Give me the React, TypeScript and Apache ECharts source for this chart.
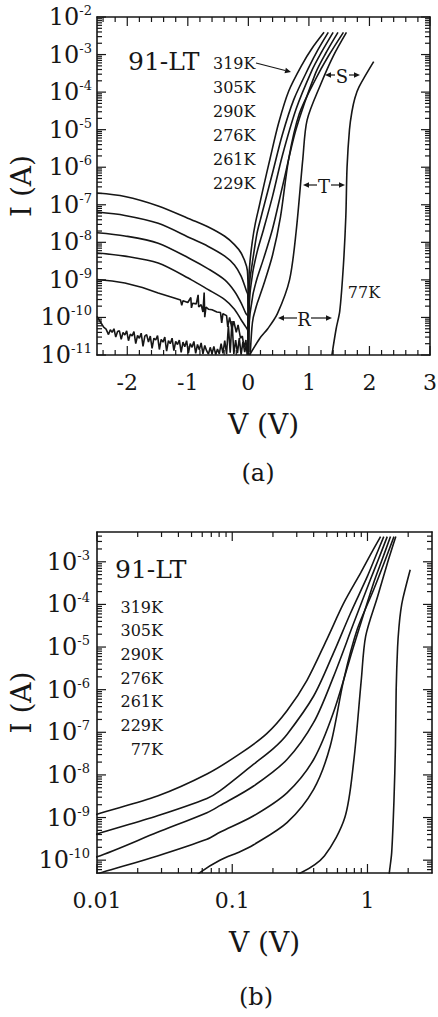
import React, { useEffect, useRef } from "react";
import * as echarts from "echarts";

const INK = "#161616";
const SERIF = "'DejaVu Serif', 'Liberation Serif', serif";

// Sample temperatures
const temperatures = ["319K", "305K", "290K", "276K", "261K", "229K", "77K"];

// Forward-bias I–V curves: [V (volts), I (amperes)]
const fwd319 = [[0.0001, 1.2e-11], [0.001, 1.2e-10], [0.01, 1.2e-9], [0.028, 3.2e-9], [0.065, 1.05e-8], [0.115, 3.2e-8], [0.18, 9.3e-8], [0.254, 3.2e-7], [0.357, 1.66e-6], [0.5, 1.5e-5], [0.667, 1.07e-4], [0.89, 5.5e-4], [1.05, 1.45e-3], [1.25, 3.9e-3]];
const fwd305 = [[0.0003, 1.2e-11], [0.001, 4.1e-11], [0.01, 4.1e-10], [0.028, 1.1e-9], [0.065, 2.8e-9], [0.081, 4.2e-9], [0.144, 1.78e-8], [0.202, 4.2e-8], [0.254, 8.9e-8], [0.4, 7.1e-7], [0.56, 7.2e-6], [0.75, 6.3e-5], [1.0, 4.6e-4], [1.15, 1.35e-3], [1.32, 3.9e-3]];
const fwd290 = [[0.001, 1.2e-11], [0.01, 1.2e-10], [0.028, 4.5e-10], [0.065, 1.3e-9], [0.081, 1.9e-9], [0.144, 5.5e-9], [0.254, 2.3e-8], [0.4, 1.7e-7], [0.56, 2.0e-6], [0.79, 3.6e-5], [1.05, 3.8e-4], [1.2, 1.1e-3], [1.4, 3.9e-3]];
const fwd276 = [[0.002, 1e-11], [0.011, 5.2e-11], [0.028, 1.26e-10], [0.065, 3.1e-10], [0.081, 4.5e-10], [0.144, 1.1e-9], [0.254, 3.8e-9], [0.4, 2.3e-8], [0.56, 2.9e-7], [0.79, 1.05e-5], [1.11, 3.2e-4], [1.28, 1.1e-3], [1.48, 3.9e-3]];
const fwd261 = [[0.03, 1e-11], [0.058, 5.2e-11], [0.081, 1.0e-10], [0.115, 1.6e-10], [0.144, 2.3e-10], [0.254, 7.6e-10], [0.4, 4.6e-9], [0.53, 4.7e-8], [0.667, 1.7e-6], [0.84, 2.6e-5], [1.11, 2.2e-4], [1.32, 9e-4], [1.57, 3.9e-3]];
const fwd229 = [[0.02, 1e-11], [0.19, 2.8e-11], [0.32, 5e-11], [0.48, 1.26e-10], [0.68, 1e-9], [0.79, 2e-8], [0.9, 1.7e-6], [0.97, 1.8e-5], [1.19, 1.55e-4], [1.4, 9e-4], [1.62, 3.9e-3]];
const fwd77 = [[1.38, 1e-11], [1.45, 5e-11], [1.51, 1.5e-10], [1.57, 2.5e-9], [1.61, 5e-8], [1.63, 1e-6], [1.67, 1e-5], [1.71, 3e-5], [1.76, 7e-5], [1.83, 1.4e-4], [2.07, 6.5e-4]];
const forwardCurves = [fwd319, fwd305, fwd290, fwd276, fwd261, fwd229, fwd77];

// Reverse-bias branches: [V (volts), |I| (amperes)]
const rev319 = [[-2.5, 2.05e-7], [-2.04, 1.66e-7], [-1.49, 9.3e-8], [-0.94, 4.0e-8], [-0.67, 2.6e-8], [-0.39, 1.45e-8], [-0.23, 8.7e-9], [-0.12, 5.2e-9], [-0.03, 2.3e-9], [-0.01, 1.26e-9], [-0.001, 1.26e-10], [-0.0001, 1.2e-11]];
const rev305 = [[-2.5, 6.4e-8], [-2.04, 5.2e-8], [-1.49, 3.2e-8], [-0.94, 1.26e-8], [-0.67, 7.9e-9], [-0.39, 4.3e-9], [-0.23, 2.5e-9], [-0.12, 1.26e-9], [-0.03, 5.0e-10], [-0.01, 4.1e-10], [-0.001, 4.1e-11], [-0.0003, 1.2e-11]];
const rev290 = [[-2.5, 1.8e-8], [-2.04, 1.48e-8], [-1.49, 9.5e-9], [-0.94, 3.5e-9], [-0.67, 2.0e-9], [-0.39, 1.0e-9], [-0.23, 5.0e-10], [-0.12, 2.45e-10], [-0.04, 1.26e-10], [-0.01, 1.1e-10], [-0.001, 1.1e-11]];
const rev276 = [[-2.5, 5.2e-9], [-2.04, 4.3e-9], [-1.49, 2.8e-9], [-0.94, 1.0e-9], [-0.67, 5.6e-10], [-0.39, 3.0e-10], [-0.23, 1.66e-10], [-0.12, 8.7e-11], [-0.04, 5.5e-11], [-0.01, 4.5e-11], [-0.002, 1e-11]];
const rev261 = [[-2.5, 1.02e-9], [-2.25, 9.3e-10], [-2.04, 8.3e-10], [-1.75, 6.3e-10], [-1.49, 4.5e-10], [-1.25, 3.4e-10], [-1.12, 2.9e-10], [-1.1, 2.1e-10], [-1.08, 2.8e-10], [-1.0, 2.5e-10], [-0.95, 3.4e-10], [-0.94, 1.8e-10], [-0.92, 2.4e-10], [-0.86, 2.3e-10], [-0.83, 4.0e-10], [-0.82, 1.9e-10], [-0.78, 2.2e-10], [-0.75, 1.4e-10], [-0.73, 4.6e-10], [-0.72, 1.02e-10], [-0.7, 1.9e-10], [-0.66, 1.66e-10], [-0.6, 1.6e-10], [-0.52, 1.4e-10], [-0.46, 1.35e-10], [-0.44, 7.2e-11], [-0.42, 1.26e-10], [-0.36, 1.12e-10], [-0.34, 5.6e-11], [-0.31, 1.0e-10], [-0.27, 5.0e-11], [-0.24, 7.9e-11], [-0.2, 4.0e-11], [-0.17, 6.3e-11], [-0.13, 2.8e-11], [-0.1, 3.2e-11], [-0.07, 1.6e-11], [-0.04, 2.5e-11], [-0.02, 1e-11]];
const rev229 = [[-2.5, 1.07e-10], [-2.45, 7.9e-11], [-2.42, 6.6e-11], [-2.39, 5.5e-11], [-2.35, 4.9e-11], [-2.31, 3.5e-11], [-2.28, 4.7e-11], [-2.25, 4.0e-11], [-2.22, 5.0e-11], [-2.19, 3.0e-11], [-2.16, 4.2e-11], [-2.13, 4.4e-11], [-2.1, 2.6e-11], [-2.07, 4.0e-11], [-2.04, 3.4e-11], [-2.01, 4.4e-11], [-1.98, 2.4e-11], [-1.95, 3.6e-11], [-1.92, 3.2e-11], [-1.89, 4.2e-11], [-1.86, 2.0e-11], [-1.83, 3.3e-11], [-1.8, 2.8e-11], [-1.77, 3.8e-11], [-1.74, 1.7e-11], [-1.71, 3.2e-11], [-1.68, 3.5e-11], [-1.65, 2.2e-11], [-1.62, 3.2e-11], [-1.59, 1.5e-11], [-1.56, 2.8e-11], [-1.53, 2.5e-11], [-1.5, 3.3e-11], [-1.47, 1.4e-11], [-1.44, 2.6e-11], [-1.41, 2.2e-11], [-1.38, 3.0e-11], [-1.35, 1.26e-11], [-1.32, 2.4e-11], [-1.29, 2.0e-11], [-1.26, 2.8e-11], [-1.23, 1.3e-11], [-1.2, 2.3e-11], [-1.17, 1.9e-11], [-1.14, 2.5e-11], [-1.11, 1.17e-11], [-1.08, 2.2e-11], [-1.05, 1.66e-11], [-1.02, 2.4e-11], [-0.99, 1.12e-11], [-0.96, 2.0e-11], [-0.93, 1.6e-11], [-0.9, 2.3e-11], [-0.87, 1.1e-11], [-0.84, 1.9e-11], [-0.81, 1.38e-11], [-0.78, 2.1e-11], [-0.75, 1.07e-11], [-0.72, 1.8e-11], [-0.69, 1.3e-11], [-0.66, 1.05e-11], [-0.63, 1.6e-11], [-0.6, 1.07e-11], [-0.57, 1.7e-11], [-0.54, 1.02e-11], [-0.51, 1.45e-11], [-0.48, 1.07e-11], [-0.45, 2.0e-11], [-0.42, 1.1e-11], [-0.39, 2.4e-11], [-0.36, 1.05e-11], [-0.33, 6.0e-11], [-0.3, 1.15e-11], [-0.27, 8.0e-11], [-0.24, 1.07e-11], [-0.21, 2.5e-11], [-0.18, 1.12e-11], [-0.15, 2.8e-11], [-0.12, 1.02e-11], [-0.09, 2.24e-11], [-0.06, 1.2e-11], [-0.03, 2.0e-11], [0.0, 1.05e-11]];
const reverseCurves = [rev319, rev305, rev290, rev276, rev261, rev229];
const reverseIsNoisy = [false, false, false, false, true, true];

// Tick labels
const voltTicksLinear = [-2, -1, 0, 1, 2, 3];
const currentTicksA = [1e-11, 1e-10, 1e-9, 1e-8, 1e-7, 1e-6, 1e-5, 1e-4, 1e-3, 1e-2];
const voltTicksLog = [0.01, 0.1, 1];
const currentTicksB = [1e-10, 1e-9, 1e-8, 1e-7, 1e-6, 1e-5, 1e-4, 1e-3];

// Axis ranges
const rangeVa: [number, number] = [-2.5, 3];
const rangeIa: [number, number] = [1e-11, 1e-2];
const rangeVb: [number, number] = [0.01, 3];
const rangeIb: [number, number] = [5e-11, 5e-3];

// Plot-area boxes [left, top, width, height]
const boxA = [97, 17, 333, 338];
const boxB = [97, 532, 335, 341];

// Minor tick positions
function logMinor(minExp: number, maxExp: number, lo: number, hi: number) {
  const out: number[] = [];
  for (let e = minExp; e <= maxExp; e++) {
    for (let m = 2; m <= 9; m++) {
      const v = Number(`${m}e${e}`);
      if (v > lo && v < hi) out.push(v);
    }
  }
  return out;
}
function linearMinor(lo: number, hi: number, step: number) {
  const out: number[] = [];
  const n = Math.round((hi - lo) / step);
  for (let k = 0; k <= n; k++) {
    const v = Number((lo + k * step).toFixed(2));
    if (Math.abs(v - Math.round(v)) > 1e-6) out.push(v);
  }
  return out;
}

const powLabel = (v: number) => `{b|10}{s|${Math.round(Math.log10(v))}}`;
const powRich = {
  b: { fontSize: 24, fontFamily: SERIF, color: INK, lineHeight: 26 },
  s: { fontSize: 13, fontFamily: SERIF, color: INK, lineHeight: 13, verticalAlign: "top" },
};

// Labelled axis plus its mirror on the opposite frame edge
function axisPair(dim: "x" | "y", gridIndex: number, type: "value" | "log", range: [number, number], major: number[], label: any, name: string, nameGap: number) {
  const sides = dim === "x" ? ["bottom", "top"] : ["left", "right"];
  return sides.map((pos, si) => {
    const ax: any = {
      gridIndex,
      type,
      min: range[0],
      max: range[1],
      position: pos,
      splitLine: { show: false },
      minorTick: { show: false },
      axisLine: { show: true, onZero: false, lineStyle: { color: INK, width: 1.6 } },
      axisTick: { show: false },
      axisLabel: { show: false },
    };
    if (type === "log") ax.logBase = 10;
    if (si === 0) {
      ax.axisLabel = { show: true, customValues: major, ...label };
      ax.name = name;
      ax.nameLocation = "middle";
      ax.nameGap = nameGap;
      ax.nameMoveOverlap = false;
      ax.nameTextStyle = { fontSize: 28, fontFamily: SERIF, color: INK };
    }
    return ax;
  });
}

// Move a value along an axis by a given number of pixels
function shiftBy(type: "value" | "log", range: [number, number], spanPx: number, v: number, dpx: number) {
  if (type === "log") return v * Math.pow(10, (dpx * (Math.log10(range[1]) - Math.log10(range[0]))) / spanPx);
  return v + (dpx * (range[1] - range[0])) / spanPx;
}

// Inward frame ticks on all four sides, drawn as short two-point line series
function frameTicks(
  axisIdx: number,
  xType: "value" | "log",
  yType: "value" | "log",
  xr: [number, number],
  yr: [number, number],
  box: number[],
  sets: { dim: "x" | "y"; values: number[]; len: number }[]
) {
  const out: any[] = [];
  const base = {
    type: "line",
    xAxisIndex: axisIdx,
    yAxisIndex: axisIdx,
    showSymbol: false,
    symbol: "none",
    silent: true,
    clip: false,
    z: 3,
    lineStyle: { color: INK, width: 1.2 },
  };
  sets.forEach(({ dim, values, len }) => {
    values.forEach((v) => {
      if (dim === "x") {
        out.push({ ...base, data: [[v, yr[0]], [v, shiftBy(yType, yr, box[3], yr[0], len)]] });
        out.push({ ...base, data: [[v, yr[1]], [v, shiftBy(yType, yr, box[3], yr[1], -len)]] });
      } else {
        out.push({ ...base, data: [[xr[0], v], [shiftBy(xType, xr, box[2], xr[0], len), v]] });
        out.push({ ...base, data: [[xr[1], v], [shiftBy(xType, xr, box[2], xr[1], -len), v]] });
      }
    });
  });
  return out;
}

const seg = (x1: number, y1: number, x2: number, y2: number, w = 1.2) => ({
  type: "line",
  shape: { x1, y1, x2, y2 },
  style: { stroke: INK, lineWidth: w },
});

function arrow(x1: number, y1: number, x2: number, y2: number) {
  const ang = Math.atan2(y2 - y1, x2 - x1);
  const L = 6;
  const W = 2.8;
  const bx = x2 - L * Math.cos(ang);
  const by = y2 - L * Math.sin(ang);
  const px = -Math.sin(ang) * W;
  const py = Math.cos(ang) * W;
  return [
    seg(x1, y1, bx, by),
    { type: "polygon", shape: { points: [[x2, y2], [bx + px, by + py], [bx - px, by - py]] }, style: { fill: INK } },
  ];
}

function txt(text: string, x: number, y: number, size: number, align = "left") {
  return {
    type: "text",
    x,
    y,
    style: { text, fontSize: size, fontFamily: SERIF, fill: INK, align, verticalAlign: "middle" },
  };
}

function spanMarker(letter: string, left: number, right: number, cx: number, y: number) {
  return [...arrow(cx - 7, y, left, y), ...arrow(cx + 7, y, right, y), txt(letter, cx, y + 1, 18, "center")];
}

export default function App() {
  const ref = useRef<HTMLDivElement>(null);

  useEffect(() => {
    if (!ref.current) return;
    const chart = echarts.init(ref.current, undefined, { renderer: "svg" });

    const lineBase = {
      type: "line",
      showSymbol: false,
      symbol: "none",
      silent: true,
      clip: true,
      lineStyle: { color: INK, width: 1.6 },
    };

    const series: any[] = [];
    temperatures.forEach((t, i) => {
      series.push({ ...lineBase, name: `${t} forward (a)`, xAxisIndex: 0, yAxisIndex: 0, smooth: 0.3, data: forwardCurves[i] });
      series.push({ ...lineBase, name: `${t} forward (b)`, xAxisIndex: 2, yAxisIndex: 2, smooth: 0.3, data: forwardCurves[i] });
    });
    reverseCurves.forEach((c, i) => {
      series.push({
        ...lineBase,
        name: `${temperatures[i]} reverse`,
        xAxisIndex: 0,
        yAxisIndex: 0,
        smooth: reverseIsNoisy[i] ? false : 0.3,
        data: c,
      });
    });

    series.push(
      ...frameTicks(0, "value", "log", rangeVa, rangeIa, boxA, [
        { dim: "x", values: voltTicksLinear, len: 9 },
        { dim: "x", values: linearMinor(-2.4, 2.8, 0.2), len: 5 },
        { dim: "y", values: currentTicksA, len: 9 },
        { dim: "y", values: logMinor(-11, -3, rangeIa[0], rangeIa[1]), len: 5 },
      ]),
      ...frameTicks(2, "log", "log", rangeVb, rangeIb, boxB, [
        { dim: "x", values: voltTicksLog, len: 9 },
        { dim: "x", values: logMinor(-2, 0, rangeVb[0], rangeVb[1]), len: 5 },
        { dim: "y", values: currentTicksB, len: 9 },
        { dim: "y", values: logMinor(-11, -3, rangeIb[0], rangeIb[1]), len: 5 },
      ])
    );

    const xLabelStyle = { fontSize: 22, fontFamily: SERIF, color: INK, margin: 16 };

    const xAxes = [
      ...axisPair("x", 0, "value", rangeVa, voltTicksLinear, { ...xLabelStyle, formatter: (v: number) => String(v) }, "V (V)", 55),
      ...axisPair("x", 1, "log", rangeVb, voltTicksLog,
        { ...xLabelStyle, formatter: (v: number) => (v >= 1 ? String(Math.round(v)) : String(Number(v.toPrecision(1)))) },
        "V (V)", 55),
    ];
    const yAxes = [
      ...axisPair("y", 0, "log", rangeIa, currentTicksA, { formatter: powLabel, rich: powRich, margin: 5 }, "I (A)", 62),
      ...axisPair("y", 1, "log", rangeIb, currentTicksB, { formatter: powLabel, rich: powRich, margin: 7 }, "I (A)", 62),
    ];

    const annotations = {
      type: "group",
      silent: true,
      children: [
        // panel (a)
        txt("91-LT", 128, 61, 25),
        ...temperatures.slice(0, 6).map((t, i) => txt(t, 213, 63 + i * 24, 16)),
        ...arrow(256, 63, 291, 72),
        ...spanMarker("S", 325, 360, 342, 75),
        ...spanMarker("T", 303, 345, 324, 185),
        ...spanMarker("R", 278, 332, 304, 318),
        txt("77K", 364, 292, 16, "center"),
        txt("(a)", 258, 473, 24, "center"),
        // panel (b)
        txt("91-LT", 115, 569, 25),
        ...temperatures.map((t, i) => txt(t, 163, 607 + i * 23.7, 16, "right")),
        txt("(b)", 256, 997, 24, "center"),
      ],
    };

    chart.setOption({
      animation: false,
      backgroundColor: "#ffffff",
      grid: [
        { left: boxA[0], top: boxA[1], width: boxA[2], height: boxA[3], outerBoundsMode: "none" },
        { left: boxB[0], top: boxB[1], width: boxB[2], height: boxB[3], outerBoundsMode: "none" },
      ],
      xAxis: xAxes,
      yAxis: yAxes,
      series,
      graphic: [annotations],
    });

    return () => chart.dispose();
  }, []);

  return <div ref={ref} style={{ position: "fixed", left: 0, top: 0, width: 438, height: 1017, background: "#ffffff" }} />;
}
